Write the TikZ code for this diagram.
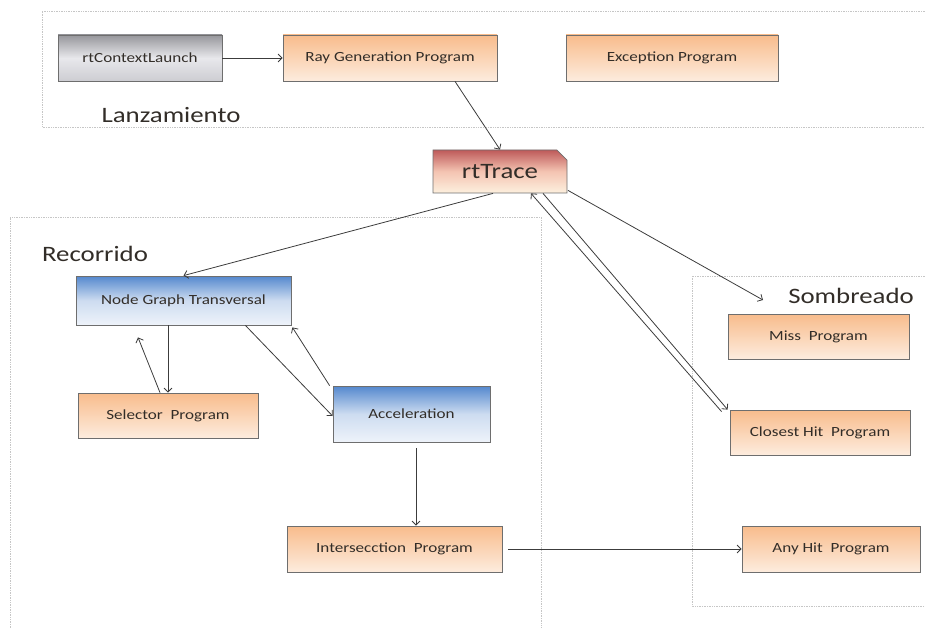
\documentclass[tikz,border=0pt]{standalone}
\usepackage{fontspec}
\setmainfont{Carlito}
\newfontfamily\widefont[FakeStretch=1.22]{Carlito}
\usetikzlibrary{arrows.meta,shapes.misc}
\definecolor{progtop}{RGB}{248,188,140}
\definecolor{progbot}{RGB}{253,236,222}
\definecolor{bluetop}{RGB}{84,136,206}
\definecolor{bluemid}{RGB}{205,220,240}
\definecolor{bluebot}{RGB}{238,243,250}
\definecolor{graytop}{RGB}{150,150,155}
\definecolor{graymid}{RGB}{232,232,236}
\definecolor{graybot}{RGB}{205,205,210}
\definecolor{tracetop}{RGB}{190,90,90}
\definecolor{tracemid}{RGB}{244,196,178}
\definecolor{tracebot}{RGB}{253,240,222}
\definecolor{boxline}{RGB}{110,110,110}
\definecolor{linkc}{RGB}{60,60,60}
\definecolor{textc}{RGB}{50,45,40}
\begin{document}
\begin{tikzpicture}[x=1pt,y=-1pt,
  >={Straight Barb[length=4pt,width=8pt]},
  group/.style={gray!45,densely dotted,line width=0.7pt},
  grouplabel/.style={font=\widefont\fontsize{22}{26}\selectfont,text=textc},
  box/.style={draw=boxline,line width=0.8pt,inner sep=0pt,font=\widefont\fontsize{14}{17}\selectfont,text=textc},
  prog/.style={box,top color=progtop,bottom color=progbot},
  stage/.style={box,top color=bluetop,bottom color=bluebot,middle color=bluemid},
  call/.style={box,top color=graytop,bottom color=graybot,middle color=graymid},
  link/.style={->,draw=linkc,line width=0.8pt}]
\useasboundingbox (0,0) rectangle (925,628);

%groups
\draw[group] (925,11) -- (42,11) -- (42,127) -- (925,127);
\draw[group] (10,628) -- (10,217) -- (541,217) -- (541,628);
\draw[group] (925,276) -- (692,276) -- (692,606) -- (925,606);
\node[grouplabel] (lanzlbl) at (171,115) {Lanzamiento};
\node[grouplabel] (recolbl) at (95,254) {Recorrido};
\node[grouplabel] (sombrlbl) at (851,296) {Sombreado};

%launch
\node[call,minimum width=164,minimum height=46] (launch) at (140,58) {rtContextLaunch};
\node[prog,minimum width=214,minimum height=46] (raygen) at (390,58) {Ray Generation Program};
\node[prog,minimum width=212,minimum height=46] (except) at (672,58) {Exception Program};

%trace
\node[box,chamfered rectangle,chamfered rectangle corners=north east,chamfered rectangle xsep=7pt,
  minimum width=134,minimum height=43,font=\widefont\fontsize{22}{26}\selectfont,
  top color=tracetop,bottom color=tracebot,middle color=tracemid] (rttrace) at (500,171.5) {rtTrace};

%traversal
\node[stage,minimum width=215,minimum height=49] (ngt) at (183.5,300.5) {Node Graph Transversal};
\node[prog,minimum width=180,minimum height=45] (selector) at (168,415.5) {Selector\ \ Program};
\node[stage,minimum width=157,minimum height=56] (accel) at (411.5,414) {Acceleration};
\node[prog,minimum width=215,minimum height=46] (inter) at (394.5,549) {Intersecction\ \ Program};

%shading
\node[prog,minimum width=181,minimum height=45] (miss) at (818.5,336.5) {Miss\ \ Program};
\node[prog,minimum width=180,minimum height=45] (closest) at (820,432.5) {Closest Hit\ \ Program};
\node[prog,minimum width=178,minimum height=46] (anyhit) at (831,549) {Any Hit\ \ Program};
\coordinate (shadein) at (763,300);

%links
\draw[link] (launch.east) -- (raygen.west);
\draw[link] ([xshift=65pt]raygen.south) -- (rttrace.north);
\draw[link] ([xshift=-7pt]rttrace.south) -- (ngt.north);
\draw[link] ([xshift=68pt,yshift=3pt]rttrace.south) -- (shadein);
\draw[link] ([xshift=43pt]rttrace.south) -- ([xshift=-2pt]closest.north west);
\draw[link] ([xshift=-8pt,yshift=-2pt]closest.north west) -- ([xshift=31pt]rttrace.south);
\draw[link] ([xshift=-15.5pt]ngt.south) -- (selector.north);
\draw[link] ([xshift=-8pt]selector.north) -- ([xshift=-45.5pt,yshift=-12pt]ngt.south);
\draw[link] ([xshift=-46pt]ngt.south east) -- ([yshift=-2pt]accel.west);
\draw[link] ([xshift=-3pt]accel.north west) -- ([xshift=1pt,yshift=-2pt]ngt.south east);
\draw[link] ([xshift=4.5pt,yshift=-6pt]accel.south) -- ([xshift=21.5pt]inter.north);
\draw[link] ([xshift=6pt]inter.east) -- (anyhit.west);
\end{tikzpicture}
\end{document}
